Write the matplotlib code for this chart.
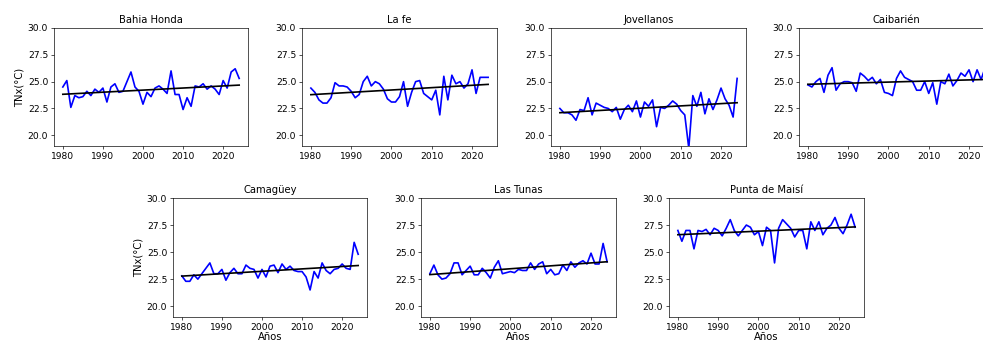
import numpy as np
import matplotlib
matplotlib.use('Agg')
import matplotlib.pyplot as plt

years = np.arange(1980, 2025)

bahia_honda = [24.5, 25.1, 22.6, 23.7, 23.5, 23.6, 24.1, 23.7, 24.3, 24.0,
               24.4, 23.1, 24.5, 24.8, 24.0, 24.1, 25.0, 25.9, 24.5, 24.1,
               22.9, 24.0, 23.6, 24.4, 24.6, 24.3, 23.9, 26.0, 23.8, 23.8,
               22.4, 23.5, 22.7, 24.6, 24.5, 24.8, 24.3, 24.6, 24.3, 23.8,
               25.1, 24.4, 25.9, 26.2, 25.3]
la_fe = [24.4, 24.0, 23.3, 23.0, 23.0, 23.5, 24.9, 24.6, 24.6, 24.5,
         24.1, 23.5, 23.8, 25.0, 25.5, 24.6, 25.0, 24.8, 24.3, 23.4,
         23.1, 23.1, 23.6, 25.0, 22.7, 24.0, 25.0, 25.1, 23.9, 23.6,
         23.3, 24.2, 21.9, 25.5, 23.3, 25.6, 24.8, 25.0, 24.4, 24.8,
         26.1, 23.9, 25.4, 25.4, 25.4]
jovellanos = [22.5, 22.1, 22.1, 21.9, 21.4, 22.4, 22.3, 23.5, 21.9, 23.0,
              22.8, 22.6, 22.5, 22.2, 22.6, 21.5, 22.4, 22.8, 22.2, 23.2,
              21.7, 23.1, 22.7, 23.3, 20.8, 22.6, 22.5, 22.8, 23.2, 22.9,
              22.3, 21.9, 18.8, 23.7, 22.7, 24.0, 22.0, 23.4, 22.4, 23.3,
              24.4, 23.4, 22.8, 21.7, 25.3]
caibarien = [24.7, 24.5, 25.0, 25.3, 24.0, 25.6, 26.3, 24.2, 24.8, 25.0,
             25.0, 24.9, 24.1, 25.8, 25.5, 25.1, 25.4, 24.8, 25.2, 24.0,
             23.9, 23.7, 25.3, 26.0, 25.4, 25.2, 25.0, 24.2, 24.2, 25.0,
             23.9, 24.9, 22.9, 25.0, 24.8, 25.7, 24.6, 25.1, 25.8, 25.5,
             26.1, 25.0, 26.1, 25.2, 26.3]
camaguey = [22.8, 22.3, 22.3, 22.9, 22.5, 23.0, 23.5, 24.0, 23.0, 23.0,
            23.4, 22.4, 23.1, 23.5, 23.0, 23.0, 23.8, 23.5, 23.4, 22.6,
            23.4, 22.7, 23.7, 23.8, 23.1, 23.9, 23.4, 23.7, 23.3, 23.2,
            23.2, 22.7, 21.5, 23.2, 22.6, 24.0, 23.3, 23.0, 23.4, 23.5,
            23.9, 23.5, 23.4, 25.9, 24.8]
las_tunas = [23.0, 23.8, 22.9, 22.5, 22.6, 23.0, 24.0, 24.0, 22.9, 23.3,
             23.7, 22.9, 22.9, 23.5, 23.1, 22.6, 23.6, 24.2, 23.0, 23.1,
             23.2, 23.1, 23.4, 23.3, 23.3, 24.0, 23.4, 23.9, 24.1, 23.0,
             23.4, 22.9, 23.0, 23.8, 23.3, 24.1, 23.6, 24.0, 24.2, 23.9,
             24.9, 23.9, 23.9, 25.8, 24.1]
punta_maisi = [27.0, 26.0, 27.0, 27.0, 25.3, 27.0, 26.9, 27.1, 26.6, 27.2,
               27.0, 26.5, 27.2, 28.0, 27.0, 26.5, 27.0, 27.5, 27.3, 26.6,
               26.9, 25.6, 27.3, 27.0, 24.0, 27.2, 28.0, 27.6, 27.2, 26.4,
               27.0, 27.0, 25.3, 27.8, 27.0, 27.8, 26.6, 27.2, 27.5, 28.2,
               27.2, 26.7, 27.5, 28.5, 27.3]

stations = ['Bahia Honda', 'La fe', 'Jovellanos', 'Caibarién',
            'Camagüey', 'Las Tunas', 'Punta de Maisí']
series = [bahia_honda, la_fe, jovellanos, caibarien,
          camaguey, las_tunas, punta_maisi]

W, H = 983, 344
fig = plt.figure(figsize=(W / 60, H / 60))

# axes boxes in pixels: left, top, right, bottom
boxes = [(54, 28, 248, 146), (302, 28, 497, 146), (551, 28, 746, 146), (799, 28, 994, 146),
         (173, 198, 367, 317), (421, 198, 616, 317), (669, 198, 864, 317)]

for i, (name, vals, box) in enumerate(zip(stations, series, boxes)):
    l, t, r, b = box
    ax = fig.add_axes([l / W, 1 - b / H, (r - l) / W, (b - t) / H])
    ax.plot(years, vals, color='blue', lw=2)
    # linear trend
    coef = np.polyfit(years, vals, 1)
    ax.plot(years, np.polyval(coef, years), color='black', lw=2)
    ax.set_ylim(19, 30)
    ax.set_yticks([20.0, 22.5, 25.0, 27.5, 30.0])
    ax.set_xticks([1980, 1990, 2000, 2010, 2020])
    ax.tick_params(labelsize=11)
    ax.set_title(name, fontsize=12)
    if i in (0, 4):
        ax.set_ylabel('TNx(°C)', fontsize=12)
    if i >= 4:
        ax.set_xlabel('Años', fontsize=12, labelpad=0)

fig.savefig('out.png', dpi=60)
